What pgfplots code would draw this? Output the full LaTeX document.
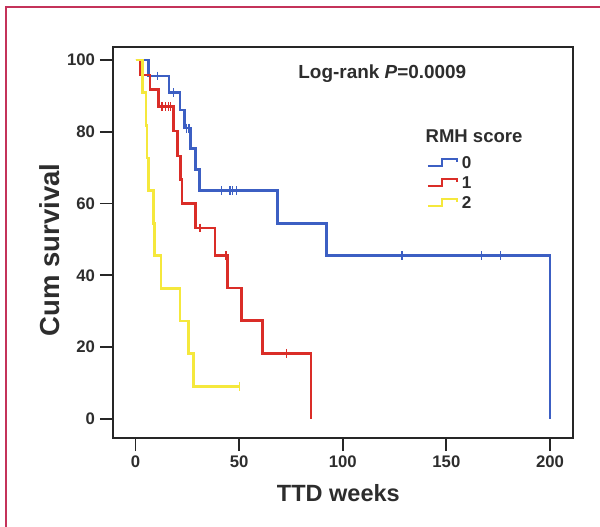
\documentclass[border=0pt]{standalone}
\usepackage{fontspec}
\setmainfont{Liberation Sans}
\usepackage{pgfplots}
\pgfplotsset{compat=1.18}
\definecolor{kmblue}{RGB}{60,95,195}
\definecolor{kmred}{RGB}{218,45,40}
\definecolor{kmyellow}{RGB}{245,232,60}
\definecolor{framecol}{RGB}{196,50,90}
\definecolor{txt}{RGB}{45,45,45}

\begin{document}
\begin{tikzpicture}[x=1bp,y=1bp]
\useasboundingbox (-56.5,-44.5) rectangle (243.5,219);
% outer frame (only left and top edges are visible)
\draw[framecol, line width=1.1bp] (-53.6,-60) -- (-53.6,215.3) -- (260,215.3);
\begin{axis}[
  at={(0,0)}, anchor=south west,
  scale only axis, width=230bp, height=195.5bp,
  xmin=-10.9, xmax=211.1, ymin=-5.3, ymax=103.6,
  axis line style={line width=1.1bp, black!85},
  xtick={0,50,100,150,200}, ytick={0,20,40,60,80,100},
  tick align=outside, tick pos=left,
  major tick length=6.5bp,
  tick style={line width=0.9bp, black!85},
  /pgf/number format/assume math mode=true,
  tick label style={font=\fontsize{8.4}{9}\selectfont\bfseries, text=txt},
  yticklabel style={xshift=1bp},
  xticklabel style={yshift=1bp},
  xlabel={TTD weeks},
  ylabel={Cum survival},
  xlabel style={at={(axis description cs:0.49,-0.141)}, anchor=center,
    font=\fontsize{11.8}{13}\selectfont\bfseries, text=txt},
  ylabel style={at={(axis description cs:-0.137,0.481)}, anchor=center,
    font=\fontsize{13.8}{15}\selectfont\bfseries, text=txt},
  clip=false,
]
%% RMH score 0
\addplot[const plot, kmblue, line width=1.3bp] coordinates {
  (0,100) (6.2,95.5) (16.1,90.9) (21.5,86.0) (23.6,81.0) (26.6,75.3)
  (29.0,69.4) (30.8,63.6) (68.5,54.5) (92.0,45.5) (200,45.5) (200,0)
};
\addplot[only marks, mark=|, mark size=2.2bp, kmblue, mark options={line width=0.7bp}] coordinates {
  (10.6,95.5) (18.3,90.9) (24.7,81.0) (25.8,81.0)
  (41.6,63.6) (45.6,63.6) (46.9,63.6) (48.8,63.6)
  (128.6,45.5) (167.0,45.5) (176.2,45.5)
};
%% RMH score 1
\addplot[const plot, kmred, line width=1.3bp] coordinates {
  (0,100) (2.2,95.8) (7.0,91.7) (11.0,87.0) (18.2,80.2) (20.3,73.2)
  (21.8,66.7) (22.4,60.0) (28.9,53.2) (38.4,45.6) (44.5,36.5)
  (51.2,27.4) (61.2,18.3) (84.7,18.3) (84.7,0)
};
\addplot[only marks, mark=|, mark size=2.2bp, kmred, mark options={line width=0.7bp}] coordinates {
  (12.8,87.0) (14.4,87.0) (16.0,87.0) (16.9,87.0)
  (31.1,53.2) (43.7,45.6) (72.9,18.3)
};
%% RMH score 2
\addplot[const plot, kmyellow, line width=1.3bp] coordinates {
  (0,100) (3.2,90.9) (5.0,81.8) (5.6,72.7) (6.2,63.6) (8.6,54.5)
  (9.0,45.5) (12.3,36.4) (21.5,27.3) (25.5,18.2) (27.9,9.1) (50.1,9.1)
};
\addplot[only marks, mark=|, mark size=2.2bp, kmyellow, mark options={line width=0.7bp}] coordinates {
  (50.1,9.1)
};

%% annotations
\node[anchor=west, inner sep=0pt, text=txt, font=\fontsize{9.5}{11}\selectfont\bfseries]
  at (axis cs:78.4,96.1) {Log-rank \textit{P}=0.0009};
\node[anchor=west, inner sep=0pt, text=txt, font=\fontsize{9.3}{11}\selectfont\bfseries]
  at (axis cs:139.8,78.8) {RMH score};
\draw[kmblue, line width=1.1bp] (axis cs:141.1,70.5) -- (axis cs:147.7,70.5) -- (axis cs:147.7,72.4) -- (axis cs:155.1,72.4) -- (axis cs:155.1,71.5);
\draw[kmred, line width=1.1bp] (axis cs:141.1,64.9) -- (axis cs:147.7,64.9) -- (axis cs:147.7,66.8) -- (axis cs:155.1,66.8) -- (axis cs:155.1,65.9);
\draw[kmyellow, line width=1.1bp] (axis cs:141.1,59.3) -- (axis cs:147.7,59.3) -- (axis cs:147.7,61.2) -- (axis cs:155.1,61.2) -- (axis cs:155.1,60.3);
\node[anchor=west, inner sep=0pt, text=txt, font=\fontsize{8.6}{10}\selectfont\bfseries] at (axis cs:157.3,71.5) {0};
\node[anchor=west, inner sep=0pt, text=txt, font=\fontsize{8.6}{10}\selectfont\bfseries] at (axis cs:157.3,65.9) {1};
\node[anchor=west, inner sep=0pt, text=txt, font=\fontsize{8.6}{10}\selectfont\bfseries] at (axis cs:157.3,60.3) {2};
\end{axis}
\end{tikzpicture}
\end{document}
